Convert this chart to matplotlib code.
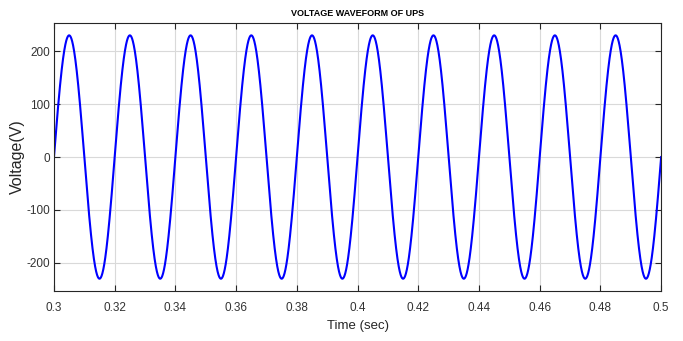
import matplotlib
matplotlib.use("Agg")
import matplotlib.pyplot as plt
import numpy as np

plt.rcParams['font.family'] = ['Liberation Sans', 'DejaVu Sans']
plt.rcParams['axes.unicode_minus'] = False

# values
t_start = 0.3
t_end = 0.5
peak_volt = 230.0      # V
freq_hz = 50.0         # one cycle every 0.02 s
x_ticks = [0.3, 0.32, 0.34, 0.36, 0.38, 0.4, 0.42, 0.44, 0.46, 0.48, 0.5]
x_labels = ['0.3', '0.32', '0.34', '0.36', '0.38', '0.4', '0.42', '0.44', '0.46', '0.48', '0.5']
y_ticks = [-200, -100, 0, 100, 200]
y_labels = ['-200', '-100', '0', '100', '200']

t = np.linspace(t_start, t_end, 4001)
v = peak_volt * np.sin(2 * np.pi * freq_hz * (t - t_start))

fig = plt.figure(figsize=(6.83, 3.41), dpi=100)
ax = fig.add_axes([0.079, 0.147, 0.889, 0.785])

ax.plot(t, v, color='#0000ff', linewidth=1.5)

ax.set_xlim(t_start, t_end)
ax.set_ylim(-253, 253)
ax.set_xticks(x_ticks)
ax.set_xticklabels(x_labels)
ax.set_yticks(y_ticks)
ax.set_yticklabels(y_labels)
ax.grid(True, color='#d9d9d9', linewidth=0.8)
ax.tick_params(direction='in', top=True, right=True, length=4, width=0.8,
               labelsize=8.5, labelcolor='#333333', color='#262626')
ax.tick_params(axis='x', pad=8)
ax.tick_params(axis='y', pad=3)
for s in ax.spines.values():
    s.set_color('#262626')
    s.set_linewidth(0.8)

ax.set_title('VOLTAGE WAVEFORM OF UPS', fontsize=6.5, fontweight='bold', pad=5)
ax.set_xlabel('Time (sec)', fontsize=9.5, color='#262626', labelpad=4)
ax.set_ylabel('Voltage(V)', fontsize=11.5, color='#262626', labelpad=1)

fig.savefig('out.png', dpi=100)
